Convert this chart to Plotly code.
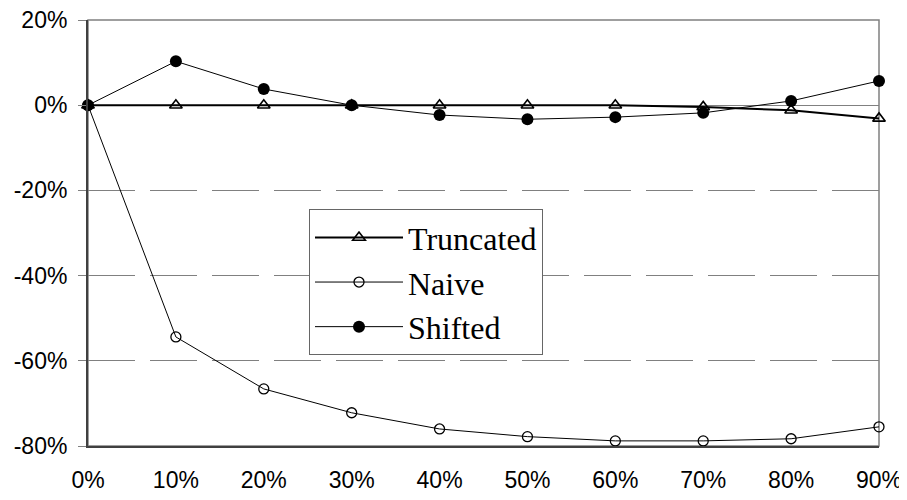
import plotly.graph_objects as go

categories = ["0%", "10%", "20%", "30%", "40%", "50%", "60%", "70%", "80%", "90%"]
truncated = [0.0, 0.0, 0.0, 0.0, 0.0, 0.0, 0.0, -0.4, -1.2, -3.1]
naive = [0.0, -54.4, -66.6, -72.2, -76.0, -77.8, -78.8, -78.8, -78.3, -75.5]
shifted = [0.0, 10.3, 3.8, 0.0, -2.3, -3.3, -2.8, -1.8, 1.0, 5.7]

y_tickvals = [20, 0, -20, -40, -60, -80]
y_ticktext = ["20%", "0%", "-20%", "-40%", "-60%", "-80%"]

fig = go.Figure()
fig.add_trace(go.Scatter(
    x=categories, y=truncated, name="Truncated", mode="lines+markers",
    line=dict(color="black", width=2),
    marker=dict(symbol="triangle-up-open", size=11, color="black", line=dict(width=1.6)),
    cliponaxis=False))
fig.add_trace(go.Scatter(
    x=categories, y=naive, name="Naive", mode="lines+markers",
    line=dict(color="black", width=1),
    marker=dict(symbol="circle-open", size=10, color="black", line=dict(width=1.3)),
    cliponaxis=False))
fig.add_trace(go.Scatter(
    x=categories, y=shifted, name="Shifted", mode="lines+markers",
    line=dict(color="black", width=1),
    marker=dict(symbol="circle", size=12, color="black"),
    cliponaxis=False))

fig.update_layout(
    width=907, height=500,
    margin=dict(l=80, r=36, t=12, b=62),
    plot_bgcolor="white", paper_bgcolor="white",
    font=dict(family="Liberation Sans", size=23, color="black"),
    showlegend=True,
    legend=dict(
        x=0.2794, y=0.556, xanchor="left", yanchor="top",
        bgcolor="white", bordercolor="#666666", borderwidth=1,
        font=dict(family="Liberation Serif", size=32, color="black"),
        itemwidth=88,
    ),
    xaxis=dict(
        type="category", range=[0, 9], automargin=False,
        showgrid=False, zeroline=False,
        showline=True, linecolor="#404040", linewidth=2,
        ticks="", ticklabelstandoff=12, ticklabeloverflow="allow",
        tickfont=dict(size=23),
    ),
    yaxis=dict(
        range=[-80, 20], automargin=False,
        tickvals=y_tickvals, ticktext=y_ticktext,
        showgrid=True, gridcolor="#808080", gridwidth=1, griddash="47px,15px",
        zeroline=True, zerolinecolor="#808080", zerolinewidth=1,
        showline=True, linecolor="#404040", linewidth=2,
        ticks="outside", ticklen=8, tickcolor="#808080", tickwidth=1,
        ticklabelstandoff=6, ticklabeloverflow="allow",
        tickfont=dict(size=23),
    ),
    shapes=[
        dict(type="rect", xref="paper", yref="paper", x0=0, x1=1, y0=0, y1=1,
             line=dict(color="#808080", width=1.5), layer="below"),
    ],
)

fig.write_html("out.html")
